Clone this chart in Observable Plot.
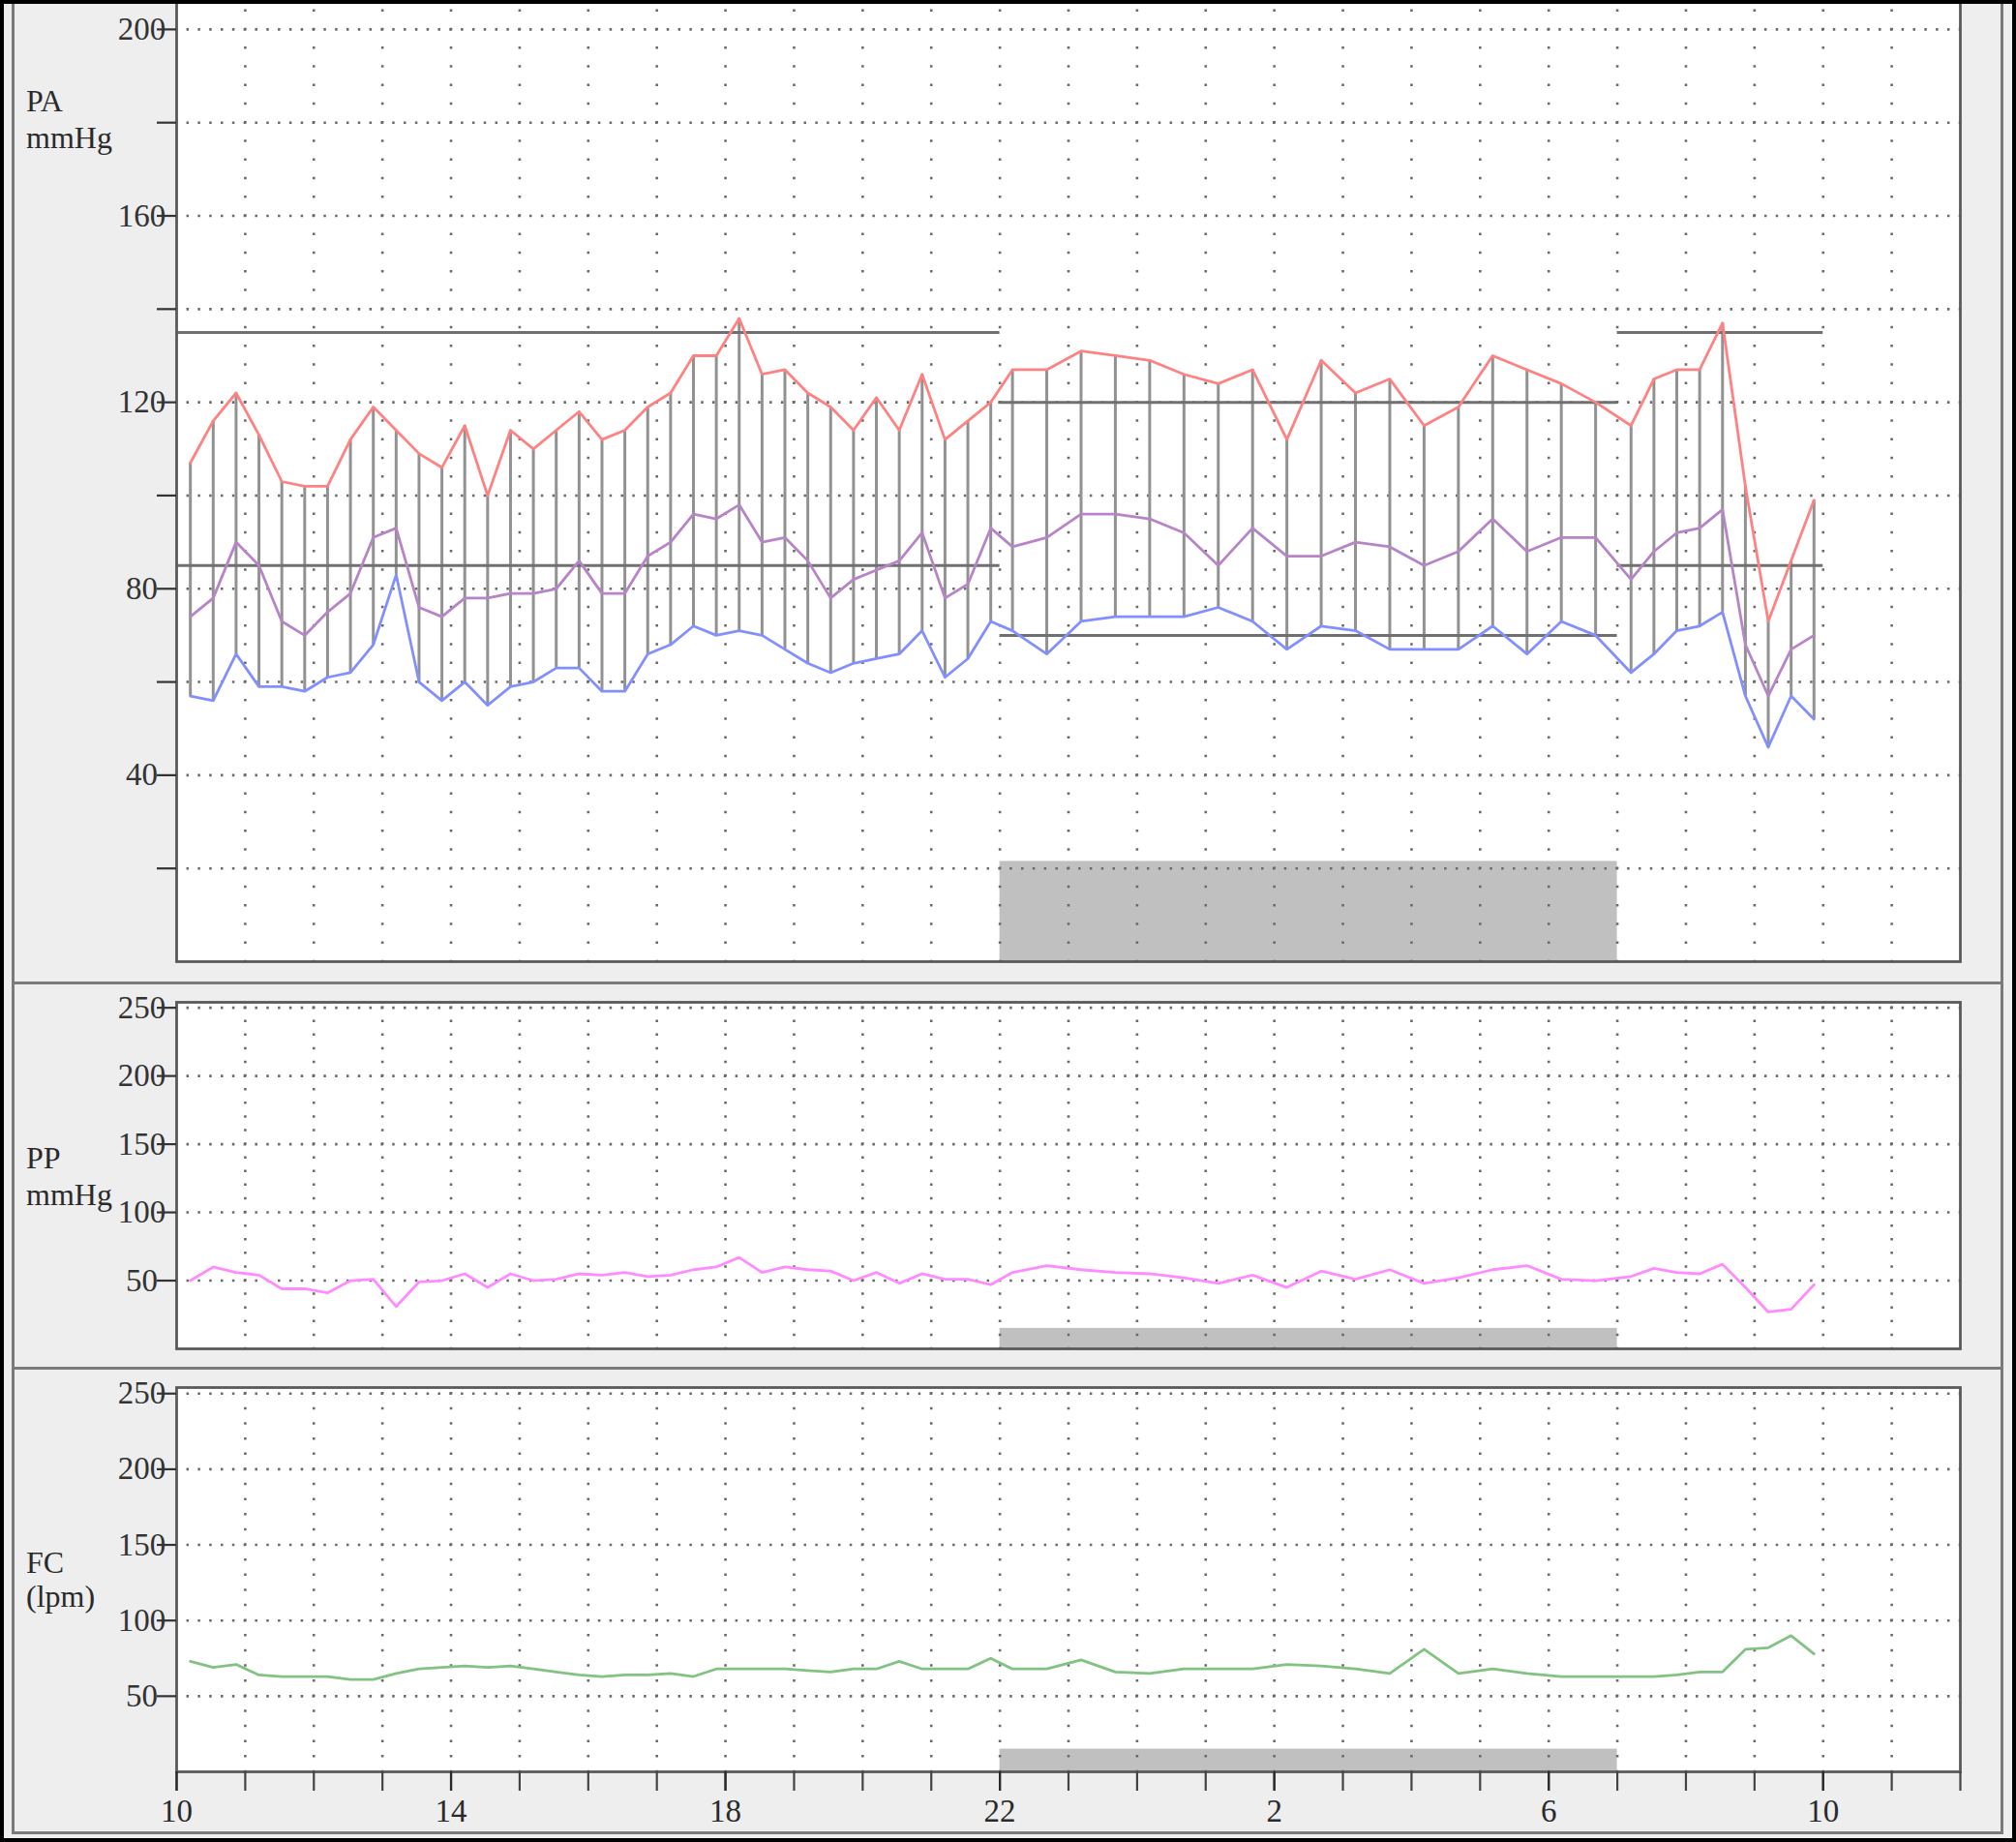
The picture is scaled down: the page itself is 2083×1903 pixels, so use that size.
<!DOCTYPE html>
<html>
<head>
<meta charset="utf-8">
<script src="https://cdn.jsdelivr.net/npm/d3@7"></script>
<script src="https://cdn.jsdelivr.net/npm/@observablehq/plot@0.6"></script>
<style>
  body { margin: 0; background: #000; }
  #chart { position: relative; width: 2083px; height: 1903px; background: #eeeeee; overflow: hidden;
           font-family: "Liberation Serif", "DejaVu Serif", serif; }
  #chart svg { position: absolute; left: 0; overflow: visible; }
  .lbl { position: absolute; font-size: 32px; line-height: 1; color: #2a2a2a; white-space: nowrap; }
  .ln { position: absolute; background: #7a7a7a; }
  .border { position: absolute; left: 0; top: 0; width: 2083px; height: 1903px; box-sizing: border-box;
            border: 4px solid #000; pointer-events: none; }
</style>
</head>
<body>
<div id="chart"></div>
<script>
// ---------------- data ----------------
const times = [
  "10:12","10:32","10:52","11:12","11:32","11:52","12:12","12:32","12:52","13:12","13:32","13:52",
  "14:12","14:32","14:52","15:12","15:32","15:52","16:12","16:32","16:52","17:12","17:32","17:52",
  "18:12","18:32","18:52","19:12","19:32","19:52","20:12","20:32","20:52","21:12","21:32","21:52",
  "22:11","22:41","23:11","23:41","00:11","00:41","01:11","01:41","02:11","02:41","03:11","03:41",
  "04:11","04:41","05:11","05:41","06:11","06:41",
  "07:12","07:32","07:52","08:12","08:32","08:52","09:12","09:32","09:52"
];
const systolic = [
  107,116,122,113,103,102,102,112,119,114,109,106,115,100,114,110,114,118,112,114,119,122,130,130,
  138,126,127,122,119,114,121,114,126,112,116,120,
  127,127,131,130,129,126,124,127,112,129,122,125,115,119,130,127,124,120,
  115,125,127,127,137,102,73,86,99
];
const meanPressure = [
  74,78,90,85,73,70,75,79,91,93,76,74,78,78,79,79,80,86,79,79,87,90,96,95,
  98,90,91,86,78,82,84,86,92,78,81,93,
  89,91,96,96,95,92,85,93,87,87,90,89,85,88,95,88,91,91,
  82,88,92,93,97,68,57,67,70
];
const diastolic = [
  57,56,66,59,59,58,61,62,68,83,60,56,60,55,59,60,63,63,58,58,66,68,72,70,
  71,70,67,64,62,64,65,66,71,61,65,73,
  71,66,73,74,74,74,76,73,67,72,71,67,67,67,72,66,73,70,
  62,66,71,72,75,57,46,57,52
];
const pulsePressure = [
  50,60,56,54,44,44,41,50,51,31,49,50,55,45,55,50,51,55,54,56,53,54,58,60,
  67,56,60,58,57,50,56,48,55,51,51,47,
  56,61,58,56,55,52,48,54,45,57,51,58,48,52,58,61,51,50,
  53,59,56,55,62,45,27,29,47
];
const heartRate = [
  73,69,71,64,63,63,63,61,61,65,68,69,70,69,70,68,66,64,63,64,64,65,63,68,
  68,68,68,67,66,68,68,73,68,68,68,75,
  68,68,74,66,65,68,68,68,71,70,68,65,81,65,68,65,63,63,
  63,63,64,66,66,81,82,90,78
];
// threshold periods (axis hours: 10 = 10:00, 34 = 10:00 next day)
const periodStart = [10, 22, 31];
const periodEnd   = [22, 31, 34];
const sysLimit    = [135, 120, 135];
const diaLimit    = [85, 70, 85];
// night (sleep) period and the height of its grey band in each panel
const nightPeriod = [22, 31];
const nightBandTop = [21.5, 15, 15];
// axis ticks
const xDomain = [10, 36];
const xTickHours  = [10, 14, 18, 22, 26, 30, 34];
const xTickLabels = ["10", "14", "18", "22", "2", "6", "10"];
const paLabeledTicks = [40, 80, 120, 160, 200];
const paMinorTicks = [20, 60, 100, 140, 180];
const ppTicks = [50, 100, 150, 200, 250];
const fcTicks = [50, 100, 150, 200, 250];

// ---------------- build rows ----------------
const toHour = t => { const [h, m] = t.split(":").map(Number); return (h < 10 ? h + 24 : h) + m / 60; };
const rows = times.map((t, i) => ({
  hour: toHour(t), sys: systolic[i], map: meanPressure[i], dia: diastolic[i],
  pp: pulsePressure[i], fc: heartRate[i]
}));
const limits = periodStart.map((s, i) => ({ start: s, end: periodEnd[i], sys: sysLimit[i], dia: diaLimit[i] }));

// ---------------- layout ----------------
const W = 2083, ML = 182, MR = 2083 - 2025;
const chart = document.getElementById("chart");
const GRID = "#6a6a6a";

function panel({ top, height, marginTop, marginBottom, yMax, gridY, bandTop, dataMarks, axisMarks }) {
  const plotH = height - marginTop - marginBottom;
  const pxPerUnit = plotH / yMax;
  const majorStep = gridY[1] - gridY[0];
  const vPeriod = majorStep / 5 * pxPerUnit;
  const hPeriod = (W - ML - MR) / (xDomain[1] - xDomain[0]) / 6;
  const dash = 2.5;
  const svg = Plot.plot({
    width: W, height, marginLeft: ML, marginRight: MR, marginTop, marginBottom,
    x: { domain: xDomain, axis: null, label: null },
    y: { domain: [0, yMax], axis: null, label: null },
    style: { background: "transparent", fontFamily: "Liberation Serif, DejaVu Serif, serif", fontSize: "33px", color: "#2a2a2a", overflow: "visible" },
    marks: [
      Plot.frame({ fill: "white", stroke: "none" }),
      Plot.rect([nightPeriod], { x1: d => d[0], x2: d => d[1], y1: 0, y2: bandTop, fill: "#c0c0c0" }),
      Plot.ruleX(d3.range(xDomain[0] + 1, xDomain[1]), {
        y1: 0, y2: yMax, stroke: GRID, strokeWidth: 2.6,
        strokeDasharray: `${dash},${vPeriod - dash}`, strokeDashoffset: dash / 2
      }),
      Plot.ruleY(gridY, {
        x1: xDomain[0], x2: xDomain[1], stroke: GRID, strokeWidth: 2.6,
        strokeDasharray: `${dash},${hPeriod - dash}`, strokeDashoffset: dash / 2
      }),
      ...dataMarks,
      Plot.frame({ stroke: "#5a5a5a", strokeWidth: 2.8 }),
      ...axisMarks
    ]
  });
  svg.style.top = top + "px";
  chart.appendChild(svg);
}

const yAxis = (ticks, labeled) => Plot.axisY(ticks, {
  label: null, tickSize: 20, tickPadding: 16, textAnchor: "middle", color: "#333", strokeWidth: 2.2,
  tickFormat: labeled ? (d => String(d)) : (() => "")
});

// Panel 1: arterial pressure
panel({
  top: 0, height: 1000, marginTop: 1, marginBottom: 7, yMax: 206,
  gridY: [20, 40, 60, 80, 100, 120, 140, 160, 180, 200], bandTop: nightBandTop[0],
  dataMarks: [
    Plot.ruleX(rows, { x: "hour", y1: "dia", y2: "sys", stroke: "#929292", strokeWidth: 3 }),
    Plot.ruleY(limits, { x1: "start", x2: "end", y: "sys", stroke: "#707070", strokeWidth: 3 }),
    Plot.ruleY(limits, { x1: "start", x2: "end", y: "dia", stroke: "#707070", strokeWidth: 3 }),
    Plot.line(rows, { x: "hour", y: "sys", stroke: "#ff8282", strokeWidth: 2.8 }),
    Plot.line(rows, { x: "hour", y: "map", stroke: "#b784c8", strokeWidth: 2.8 }),
    Plot.line(rows, { x: "hour", y: "dia", stroke: "#8290ff", strokeWidth: 2.8 })
  ],
  axisMarks: [yAxis(paMinorTicks, false), yAxis(paLabeledTicks, true)]
});

// Panel 2: pulse pressure
panel({
  top: 1020, height: 380, marginTop: 15, marginBottom: 7, yMax: 254,
  gridY: [50, 100, 150, 200, 250], bandTop: nightBandTop[1],
  dataMarks: [
    Plot.line(rows, { x: "hour", y: "pp", stroke: "#ff8cff", strokeWidth: 2.8 })
  ],
  axisMarks: [yAxis(ppTicks, true)]
});

// Panel 3: heart rate
panel({
  top: 1420, height: 483, marginTop: 13, marginBottom: 73, yMax: 254,
  gridY: [50, 100, 150, 200, 250], bandTop: nightBandTop[2],
  dataMarks: [
    Plot.line(rows, { x: "hour", y: "fc", stroke: "#82c282", strokeWidth: 2.8 })
  ],
  axisMarks: [
    yAxis(fcTicks, true),
    Plot.axisX(d3.range(xDomain[0], xDomain[1] + 1), { label: null, tickSize: 20, tickFormat: () => "", color: "#444", strokeWidth: 2.2 }),
    Plot.axisX(xTickHours, { label: null, tickSize: 20, tickPadding: 8, color: "#2a2a2a", strokeWidth: 2.2,
      tickFormat: d => xTickLabels[xTickHours.indexOf(d)] })
  ]
});

// panel chrome and labels
function box(cls, css, text) {
  const d = document.createElement("div");
  d.className = cls;
  Object.assign(d.style, css);
  if (text) d.textContent = text;
  chart.appendChild(d);
}
box("ln", { left: "12px", top: "0px", width: "2.5px", height: "1894px" });
box("ln", { left: "2067px", top: "0px", width: "2.5px", height: "1894px" });
box("ln", { left: "12px", top: "1014px", width: "2058px", height: "2.5px" });
box("ln", { left: "12px", top: "1412px", width: "2058px", height: "2.5px" });
box("ln", { left: "12px", top: "1892px", width: "2058px", height: "2.5px" });

box("lbl", { left: "27px", top: "88px" }, "PA");
box("lbl", { left: "27px", top: "126px" }, "mmHg");
box("lbl", { left: "27px", top: "1180px" }, "PP");
box("lbl", { left: "27px", top: "1218px" }, "mmHg");
box("lbl", { left: "27px", top: "1598px" }, "FC");
box("lbl", { left: "27px", top: "1633px" }, "(lpm)");
box("border", {});
</script>
</body>
</html>
